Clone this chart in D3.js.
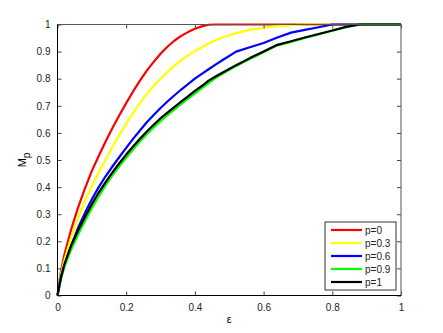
<!DOCTYPE html>
<html>
<head>
<meta charset="utf-8">
<script src="https://cdn.jsdelivr.net/npm/d3@7"></script>
<style>
  body { margin: 0; background: #fff; }
  text { font-family: "Liberation Sans", Arial, sans-serif; }
</style>
</head>
<body>
<div id="wrapper"></div>
<script>
const eps = [0, 0.01, 0.02, 0.04, 0.06, 0.08, 0.1, 0.12, 0.14, 0.16, 0.18, 0.2, 0.22, 0.24, 0.26, 0.28, 0.3, 0.32, 0.34, 0.36, 0.38, 0.4, 0.42, 0.44, 0.46, 0.48, 0.52, 0.56, 0.6, 0.64, 0.68, 0.72, 0.76, 0.8, 0.84, 0.88, 0.92, 0.96, 1]

const p0 = [0, 0.09, 0.15, 0.245, 0.325, 0.395, 0.46, 0.515, 0.568, 0.618, 0.665, 0.71, 0.753, 0.793, 0.83, 0.862, 0.892, 0.918, 0.94, 0.958, 0.972, 0.984, 0.993, 0.999, 1, 1, 1, 1, 1, 1, 1, 1, 1, 1, 1, 1, 1, 1, 1]
const p03 = [0, 0.08, 0.13, 0.215, 0.285, 0.35, 0.405, 0.455, 0.502, 0.548, 0.592, 0.634, 0.674, 0.71, 0.744, 0.774, 0.8, 0.825, 0.848, 0.868, 0.886, 0.902, 0.916, 0.93, 0.942, 0.952, 0.968, 0.98, 0.988, 0.994, 0.998, 1, 1, 1, 1, 1, 1, 1, 1]
const p06 = [0, 0.07, 0.11, 0.185, 0.25, 0.305, 0.355, 0.4, 0.44, 0.476, 0.511, 0.545, 0.578, 0.609, 0.639, 0.666, 0.692, 0.716, 0.738, 0.76, 0.78, 0.8, 0.818, 0.835, 0.852, 0.868, 0.9, 0.916, 0.932, 0.952, 0.97, 0.98, 0.99, 1, 1, 1, 1, 1, 1]
const p09 = [0, 0.06, 0.105, 0.17, 0.225, 0.275, 0.322, 0.366, 0.406, 0.443, 0.477, 0.508, 0.539, 0.568, 0.595, 0.62, 0.643, 0.665, 0.686, 0.706, 0.726, 0.745, 0.765, 0.784, 0.802, 0.818, 0.847, 0.873, 0.898, 0.923, 0.936, 0.95, 0.963, 0.977, 0.99, 1, 1, 1, 1]
const p1 = [0, 0.065, 0.115, 0.185, 0.24, 0.29, 0.337, 0.38, 0.418, 0.454, 0.488, 0.52, 0.55, 0.578, 0.605, 0.63, 0.654, 0.675, 0.695, 0.715, 0.735, 0.755, 0.773, 0.793, 0.808, 0.822, 0.85, 0.876, 0.9, 0.925, 0.938, 0.952, 0.965, 0.978, 0.991, 1, 1, 1, 1]

const seriesNames = ['p=0', 'p=0.3', 'p=0.6', 'p=0.9', 'p=1']
const seriesValues = [p0, p03, p06, p09, p1]
const seriesColors = ['#ff0000', '#ffff00', '#0000ff', '#00ff00', '#000000']

const xTicks = [0, 0.2, 0.4, 0.6, 0.8, 1]
const yTicks = [0, 0.1, 0.2, 0.3, 0.4, 0.5, 0.6, 0.7, 0.8, 0.9, 1]

function drawChart() {
  let dimensions = {
    width: 443,
    height: 333,
    margins: {
      top: 24.5,
      right: 42,
      bottom: 37.5,
      left: 57.5,
    }
  }
  dimensions.boundedWidth = dimensions.width
    - dimensions.margins.left
    - dimensions.margins.right
  dimensions.boundedHeight = dimensions.height
    - dimensions.margins.top
    - dimensions.margins.bottom

  const wrapper = d3.select('#wrapper')
    .append('svg')
      .attr('width', dimensions.width)
      .attr('height', dimensions.height)

  const bounds = wrapper.append('g')
      .attr('transform', `translate(${dimensions.margins.left}, ${dimensions.margins.top})`)

  const xScale = d3.scaleLinear()
      .domain([0, 1])
      .range([0, dimensions.boundedWidth])

  const yScale = d3.scaleLinear()
      .domain([0, 1])
      .range([dimensions.boundedHeight, 0])

  // Draw data
  const lineGenerator = d3.line()
      .x((d, i) => xScale(eps[i]))
      .y(d => yScale(d))

  bounds.append('g')
    .selectAll('path')
    .data(seriesValues)
    .join('path')
      .attr('d', d => lineGenerator(d))
      .attr('fill', 'none')
      .attr('stroke', (d, i) => seriesColors[i])
      .attr('stroke-width', 2.2)
      .attr('stroke-linejoin', 'round')

  // Draw peripherals
  const tickSize = 4

  const xAxis = bounds.append('g')
      .attr('transform', `translate(0, ${dimensions.boundedHeight})`)
      .call(d3.axisBottom(xScale).tickValues(xTicks).tickSize(-tickSize).tickPadding(8).tickFormat(d3.format('')))
  const xTop = bounds.append('g')
      .call(d3.axisTop(xScale).tickValues(xTicks).tickSize(-tickSize).tickFormat(''))
  const yAxis = bounds.append('g')
      .call(d3.axisLeft(yScale).tickValues(yTicks).tickSize(-tickSize).tickPadding(7).tickFormat(d3.format('')))
  const yRight = bounds.append('g')
      .attr('transform', `translate(${dimensions.boundedWidth}, 0)`)
      .call(d3.axisRight(yScale).tickValues(yTicks).tickSize(-tickSize).tickFormat(''))

  ;[xAxis, xTop, yAxis, yRight].forEach(a => {
    a.selectAll('.domain').remove()
    a.selectAll('.tick line').attr('stroke', '#444')
    a.selectAll('text')
      .attr('font-size', 10)
      .attr('fill', '#222')
  })

  // box
  bounds.append('rect')
      .attr('width', dimensions.boundedWidth)
      .attr('height', dimensions.boundedHeight)
      .attr('fill', 'none')
      .attr('stroke', '#555')
      .attr('stroke-width', 1)
  bounds.append('path')
      .attr('d', `M0,0V${dimensions.boundedHeight}H${dimensions.boundedWidth}`)
      .attr('fill', 'none')
      .attr('stroke', '#000')

  // axis labels
  wrapper.append('text')
      .attr('x', dimensions.margins.left + dimensions.boundedWidth / 2)
      .attr('y', 323)
      .attr('text-anchor', 'middle')
      .attr('font-size', 11)
      .text('ε')

  const yLabel = wrapper.append('text')
      .attr('transform', `translate(26, ${dimensions.margins.top + dimensions.boundedHeight / 2}) rotate(-90)`)
      .attr('text-anchor', 'middle')
      .attr('font-size', 11)
  yLabel.append('tspan').text('M')
  yLabel.append('tspan').attr('dy', 4).attr('font-size', 10).text('p')

  // legend
  const legend = bounds.append('g')
      .attr('transform', `translate(${325 - dimensions.margins.left}, ${222 - dimensions.margins.top})`)
  legend.append('rect')
      .attr('width', 71)
      .attr('height', 68)
      .attr('fill', '#fff')
      .attr('stroke', '#000')
      .attr('stroke-width', 0.8)
  const rows = legend.selectAll('g')
    .data(seriesNames)
    .join('g')
      .attr('transform', (d, i) => `translate(0, ${8 + i * 13})`)
  rows.append('line')
      .attr('x1', 6)
      .attr('x2', 37)
      .attr('stroke', (d, i) => seriesColors[i])
      .attr('stroke-width', 2.2)
  rows.append('text')
      .attr('x', 40)
      .attr('y', 4)
      .attr('font-size', 10)
      .attr('fill', '#222')
      .text(d => d)
}

drawChart()
</script>
</body>
</html>
